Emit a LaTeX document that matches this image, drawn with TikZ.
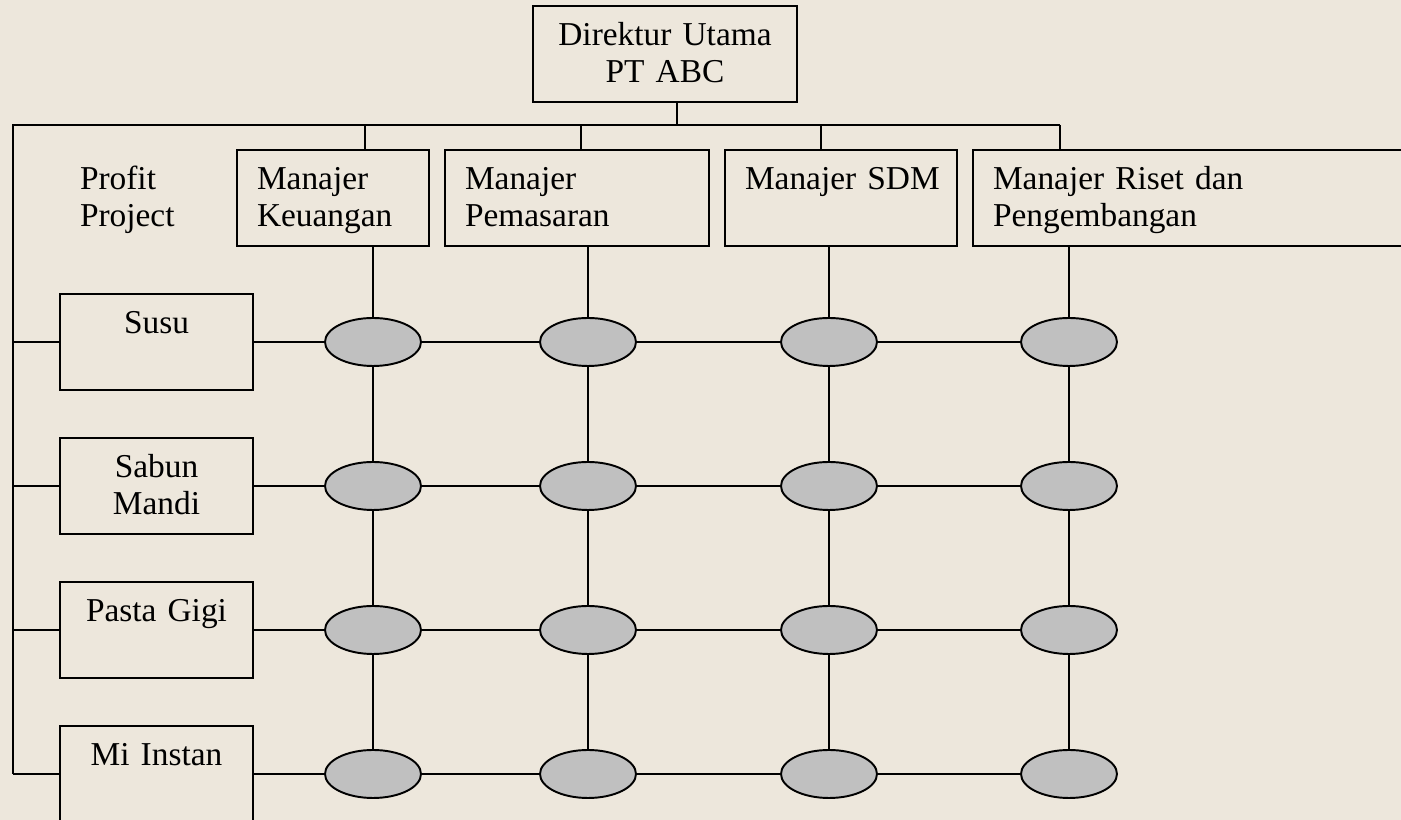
\documentclass[tikz,border=0pt]{standalone}
\usepackage{fontspec}
\setmainfont{Liberation Serif}
\usepackage{xcolor}
\definecolor{bgColor}{HTML}{EDE7DC}
\definecolor{cellColor}{HTML}{C0C0C0}
\usepackage{tikz}
\usetikzlibrary{shapes.geometric, positioning}

\tikzset{
  unitbox/.style={draw, black, line width=1.1pt, inner sep=0pt, outer sep=0pt, anchor=north west,
    text height=0.79cm, text depth=1.13cm, font=\fontsize{19}{21}\selectfont},
  cell/.style={ellipse, draw, line width=1.1pt, fill=cellColor,
    minimum width=1.92cm, minimum height=0.96cm, inner sep=0pt},
  link/.style={black, line width=1.1pt}
}

\begin{document}
\begin{tikzpicture}
  \fill[bgColor] (0,0) rectangle (28.02,16.4);
  \useasboundingbox (0,0) rectangle (28.02,16.4);

  \node[unitbox, text width=5.28cm, align=center] (dir) at (10.66,16.28) {Direktur Utama\\PT ABC};
  \node[unitbox, draw=none, text width=3cm, align=left] (profit) at (1.6,13.4) {Profit\\Project};

  % manajer fungsional
  \foreach \name/\x/\w/\descr in {keu/4.74/3.04/{Manajer\\Keuangan},
    pem/8.9/4.48/{Manajer\\Pemasaran}, sdm/14.5/3.84/{\mbox{Manajer SDM}},
    ris/19.46/7.94/{Manajer Riset dan\\Pengembangan}}
  \node[unitbox, inner xsep=0.4cm, text width=\w cm, align=left] (\name) at (\x,13.4) {\descr};

  % proyek produk
  \foreach \name/\y/\descr in {susu/9.56/Susu, sabun/6.68/{Sabun\\Mandi},
    pasta/3.8/Pasta Gigi, mi/0.92/Mi Instan}
  \node[unitbox, text width=3.86cm, align=center] (\name) at (1.2,\y+0.96) {\descr};

  \foreach \c/\x in {1/7.46,2/11.76,3/16.58,4/21.38}
  \foreach \r/\y in {1/9.56,2/6.68,3/3.8,4/0.92}
  \node[cell] (c\c\r) at (\x,\y) {};

  \coordinate (busL) at (0.26,13.9);
  \coordinate (busD) at (13.54,13.9);
  \draw[link] (busD |- dir.south) -- (busD);

  \foreach \name/\c/\x in {keu/1/7.3, pem/2/11.62, sdm/3/16.42, ris/4/21.2} {
    \coordinate (top\c) at (\x,13.9);
    \draw[link] (top\c) -- (top\c |- \name.north);
    \draw[link] (\name.south -| c\c1) -- (c\c1.north);
    \draw[link] (c\c1.south) -- (c\c2.north) (c\c2.south) -- (c\c3.north)
      (c\c3.south) -- (c\c4.north);
  }
  \draw[link] (top4) -- (busL) -- (busL |- mi.west);

  \foreach \name/\r in {susu/1, sabun/2, pasta/3, mi/4} {
    \draw[link] (busL |- \name.west) -- (\name.west);
    \draw[link] (\name.east) -- (c1\r.west);
    \draw[link] (c1\r.east) -- (c2\r.west) (c2\r.east) -- (c3\r.west)
      (c3\r.east) -- (c4\r.west);
  }
\end{tikzpicture}
\end{document}
